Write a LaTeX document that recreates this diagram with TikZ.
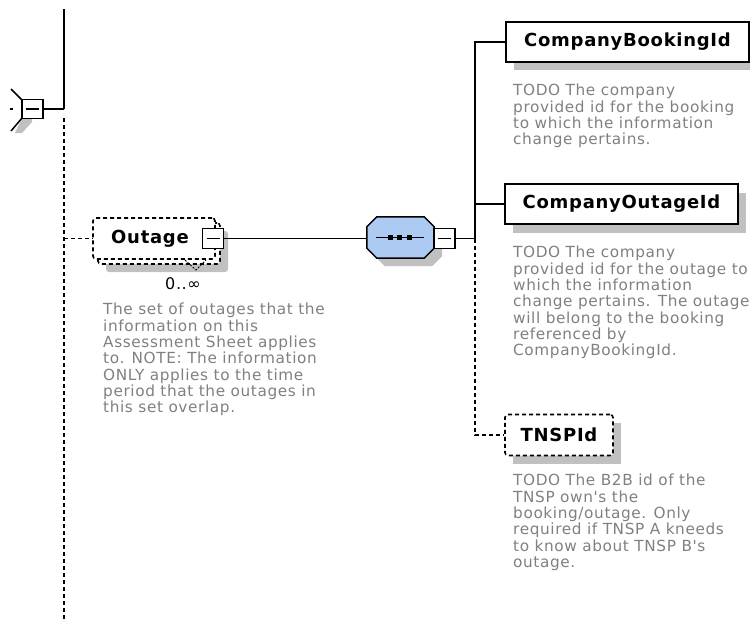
\documentclass[tikz,border=0pt]{standalone}
\usepackage{fontspec}
\setmainfont{DejaVu Sans}
\newfontfamily\descfont[LetterSpace=4]{DejaVu Sans}
\newfontfamily\titlefont[LetterSpace=4]{DejaVu Sans}
\definecolor{shadowgray}{RGB}{192,192,192}
\definecolor{descgray}{RGB}{128,128,128}
\definecolor{seqblue}{RGB}{172,202,242}
\tikzset{
  conn/.style={line width=1.5pt},
  dconn/.style={line width=1.5pt, dash pattern=on 4pt off 3pt},
  shadowfill/.style={fill=shadowgray, draw=none},
  elem/.style={draw, line width=1.6pt, fill=white, minimum height=40pt, inner sep=0pt,
    font=\titlefont\bfseries\fontsize{18}{18}\selectfont},
  optelem/.style={elem, dash pattern=on 4pt off 3pt, rounded corners=3pt},
  minusbox/.style={draw, fill=white, line width=1.5pt, minimum width=21pt, minimum height=20pt, inner sep=0pt,
    path picture={\draw[line width=1.5pt] ([xshift=4pt]path picture bounding box.west) -- ([xshift=-4pt]path picture bounding box.east);}},
  desc/.style={anchor=north west, align=left, text=descgray, inner sep=0pt,
    font=\descfont\fontsize{15.3}{16.3}\selectfont},
  seqframe/.style={draw=none, inner sep=0pt, minimum width=67pt, minimum height=41pt},
  octo/.style={draw, fill=seqblue, line width=1.5pt},
}
\begin{document}
\begin{tikzpicture}[x=1pt,y=-1pt]
\useasboundingbox (0,0) rectangle (750,619);

% left partial compositor
\fill[shadowgray] (22,118) -- (32,118) -- (32,122) -- (22,133) -- (15,133) -- cycle;
\draw[conn] (11,89) -- (22,100);
\draw[conn] (22,118) -- (11,131);
\draw[conn] (10,109) -- (13,109);
\node[minusbox, minimum height=19pt] (lm) at (32.5,109) {};

% left trunk
\coordinate (lt) at (64,9);
\coordinate (lj) at (64,109);
\coordinate (lb) at (64,619);
\draw[conn] (lm.east) -- (lj);
\draw[conn] (lt) -- (lj);
\draw[dconn] (lj) ++(0,9) -- (lb);

% Outage element (repeating, optional)
\fill[shadowfill, rounded corners=3pt] (106,231) rectangle (228,272);
\node[optelem, minimum width=122pt, minimum height=41pt] (outback) at (159,243.5) {};
\node[optelem, minimum width=122pt, minimum height=41pt] (outage) at (154,238.5) {\hspace*{-8pt}Outage};
\node[minusbox] (outm) at (213,238.5) {};
\draw[line width=0.9pt, dash pattern=on 2pt off 1.5pt] (185,260) -- (196,270) -- (206,260);
\node[font=\descfont\fontsize{16}{16}\selectfont, inner sep=0pt] (occ) at (183,284) {0..∞};
\draw[dconn] (outage.west -| lj) -- (outage.west);
\node[desc] (outdesc) at (103,303) {The set of outages that the\\information on this\\Assessment Sheet applies\\to. NOTE: The information\\ONLY applies to the time\\period that the outages in\\this set overlap.};

% sequence compositor
\node[seqframe] (seq) at (400.5,237.5) {};
\fill[shadowfill] ([shift={(8,8)}]seq.west) -- ([shift={(18,8)}]seq.north west) -- ([shift={(-2,8)}]seq.north east) -- ([shift={(8,18)}]seq.north east) -- ([shift={(8,-2)}]seq.south east) -- ([shift={(-2,8)}]seq.south east) -- ([shift={(18,8)}]seq.south west) -- ([shift={(8,-2)}]seq.south west) -- cycle;
\draw[octo] ([shift={(0,10)}]seq.north west) -- ([shift={(10,0)}]seq.north west) -- ([shift={(-10,0)}]seq.north east) -- ([shift={(0,10)}]seq.north east) -- ([shift={(0,-10)}]seq.south east) -- ([shift={(-10,0)}]seq.south east) -- ([shift={(10,0)}]seq.south west) -- ([shift={(0,-10)}]seq.south west) -- cycle;
\draw[conn] ([xshift=-25pt]seq.center) -- ([xshift=23pt]seq.center);
\foreach \dx in {-10,-1,9} \fill ([xshift=\dx pt]seq.center) +(-2.5,-2.5) rectangle +(2.5,2.5);
\node[minusbox] (seqm) at (444.5,238.5) {};
\draw[conn] (outm.east) -- (seq.west |- outm.east);

% children
\fill[shadowfill] (514,30) rectangle (750,70);
\node[elem, minimum width=243pt] (cb) at (627.5,42) {CompanyBookingId};
\fill[shadowfill] (513,193) rectangle (746,233);
\node[elem, minimum width=233pt] (co) at (621.5,204) {CompanyOutageId};
\fill[shadowfill] (513,423) rectangle (621,464);
\node[optelem, minimum width=108pt, minimum height=41pt] (tn) at (559,435) {TNSPId};

\coordinate (jn) at (475,238.5);
\draw[conn] (seqm.east) -- (jn);
\draw[conn] (jn) |- (cb.west);
\draw[conn] (jn) |- (co.west);
\draw[dconn] (jn) |- (tn.west);

\node[desc] (cbdesc) at (513,84) {TODO The company\\provided id for the booking\\to which the information\\change pertains.};
\node[desc] (codesc) at (513,246) {TODO The company\\provided id for the outage to\\which the information\\change pertains. The outage\\will belong to the booking\\referenced by\\CompanyBookingId.};
\node[desc] (tndesc) at (513,474) {TODO The B2B id of the\\TNSP own's the\\booking/outage. Only\\required if TNSP A kneeds\\to know about TNSP B's\\outage.};
\end{tikzpicture}
\end{document}
